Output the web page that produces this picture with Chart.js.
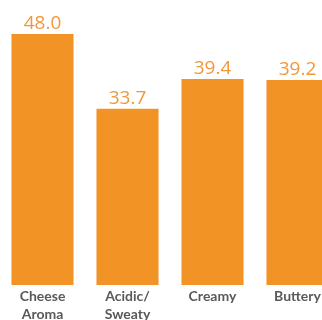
<!DOCTYPE html>
<html><head><meta charset="utf-8">
<script src="https://cdn.jsdelivr.net/npm/chart.js@4"></script>
<style>
html,body{margin:0;padding:0;overflow:hidden;background:#fff;width:322px;height:320px;}
#wrap{position:relative;width:340px;height:326px;}
</style></head>
<body><div id="wrap"><canvas id="c" width="340" height="326"></canvas></div>
<script>
const categories = [["Cheese","Aroma"],["Acidic/","Sweaty"],["Creamy"],["Buttery"]];
const values = [48.0, 33.7, 39.4, 39.2];
const valueLabels = ["48.0","33.7","39.4","39.2"];

const barColor = "#F29326";
const labelColor = "#F2973A";
const catColor = "#58595B";

const valuePlugin = {
  id: "valueLabels",
  afterDatasetsDraw(chart) {
    const ctx = chart.ctx;
    const meta = chart.getDatasetMeta(0);
    ctx.save();
    ctx.fillStyle = labelColor;
    ctx.font = "19px 'Open Sans'";
    ctx.textAlign = "center";
    ctx.textBaseline = "alphabetic";
    meta.data.forEach((bar, i) => {
      ctx.fillText(valueLabels[i], bar.x, bar.y - 5);
    });
    ctx.restore();
  }
};

new Chart(document.getElementById("c"), {
  type: "bar",
  data: {
    labels: categories,
    datasets: [{
      data: values,
      backgroundColor: barColor,
      borderWidth: 0,
      categoryPercentage: 1,
      barPercentage: 0.73
    }]
  },
  options: {
    responsive: false,
    animation: false,
    devicePixelRatio: 1,
    layout: { padding: 0 },
    plugins: { legend: { display: false }, tooltip: { enabled: false } },
    scales: {
      y: { display: false, min: 0, max: 54.5 },
      x: {
        grid: { display: false, drawTicks: false },
        border: { display: false },
        ticks: {
          color: catColor,
          font: { family: "Lato", size: 14, weight: "bold", lineHeight: 1.25 },
          padding: 3,
          maxRotation: 0,
          autoSkip: false
        }
      }
    }
  },
  plugins: [valuePlugin]
});
</script></body></html>
